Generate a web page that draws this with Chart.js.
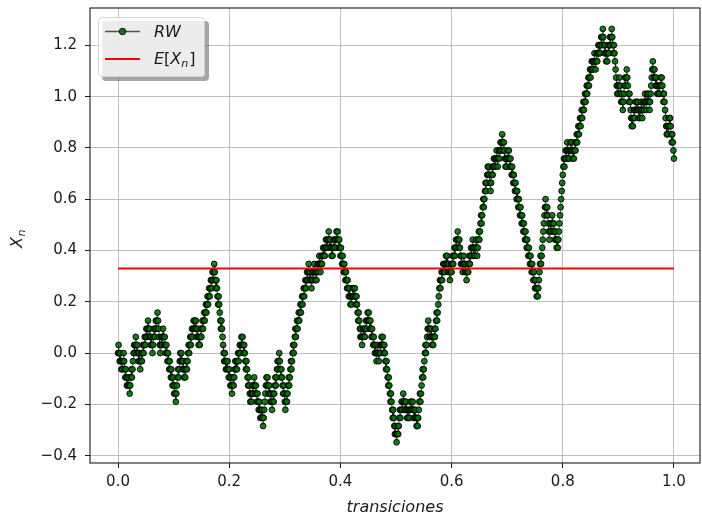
<!DOCTYPE html>
<html><head><meta charset="utf-8">
<script src="https://cdn.jsdelivr.net/npm/chart.js@4"></script>
<style>html,body{margin:0;padding:0;background:#fff}canvas{display:block}</style>
</head><body>
<canvas id="c" width="702" height="516"></canvas>
<script>
// step height of the walk (40 steps ~ 1.265)
const STEP = 0.0316;
// walk levels (in units of STEP), one per transition
const walkLevels = [
0,1,
0,-1,0,-1,-2,-1,-2,-1,0,-1,-2,-3,-2,-3,-4,-3,-4,-3,-4,-5,
-4,-3,-2,-3,-2,-1,0,1,0,1,2,
1,0,1,0,-1,0,-1,-2,
-1,0,-1,0,1,0,1,2,1,2,3,2,3,4,3,2,3,2,1,2,1,0,1,2,3,2,3,4,3,4,5,
4,3,2,1,0,
1,2,1,2,3,
2,1,2,1,0,1,0,-1,0,-1,-2,-1,-2,-3,-2,-3,-4,-3,-4,-5,-4,-5,-6,
-5,-4,-3,-2,-3,-2,-1,0,
-1,0,-1,-2,-1,-2,-3,-2,-3,
-2,-1,-2,-1,0,1,0,1,2,1,2,3,2,3,4,3,4,
3,4,3,2,3,2,1,2,1,
2,3,2,3,4,3,4,5,4,5,6,5,6,7,6,7,8,7,8,9,8,9,10,9,10,11,
10,9,8,9,8,7,6,7,6,5,4,3,4,3,2,1,0,-1,0,-1,-2,-1,-2,-1,-2,-3,-2,-3,-4,-3,-4,-5,
-4,-3,-4,-3,-2,-1,-2,-1,-2,-1,0,-1,0,1,0,1,2,1,2,
1,0,1,0,-1,-2,-1,-2,-3,-4,-3,-4,-5,-6,
-5,-6,-5,-4,-5,-4,-3,
-4,-5,-4,-5,-6,-5,-6,-7,-6,-7,-8,-7,-8,-7,-8,-9,
-8,-7,-6,-5,-4,-3,
-4,-3,-4,-5,-4,-5,-6,-5,-6,-7,
-6,-5,-6,-5,-4,-3,-4,-3,-2,-1,-2,-1,0,
-1,-2,-3,-2,-3,-4,-5,-4,-5,-6,-7,
-6,-5,-6,-5,-4,-3,-4,-3,-2,-1,-2,-1,0,1,0,1,2,3,2,3,4,3,4,5,4,5,6,5,6,7,6,7,8,7,8,9,8,9,10,9,10,11,
10,9,10,9,8,
9,10,9,10,11,10,9,10,9,10,11,10,11,12,11,10,11,12,11,12,13,12,13,12,13,14,13,14,13,14,15,
14,13,14,13,12,13,12,
13,14,13,14,13,14,15,14,15,
14,13,14,13,12,13,12,11,12,11,10,11,10,9,10,9,8,9,8,7,8,7,6,
7,6,7,8,7,8,7,8,
7,6,7,6,5,4,5,4,3,2,3,2,1,
2,3,2,3,2,3,4,3,4,5,4,5,
4,3,4,3,2,3,2,1,2,1,0,1,0,-1,
0,1,0,-1,0,1,0,1,2,1,2,
1,0,1,0,-1,-2,-1,-2,-3,-4,-3,-4,-5,-6,-5,-6,-7,-8,-7,-8,-9,-10,-9,-10,-11,
-10,-9,-10,-9,-8,-7,-8,-7,-6,-7,-6,-5,
-6,-7,-6,-7,-6,-7,-8,-7,-8,
-7,-8,-7,-6,-7,-6,-7,-6,
-7,-8,-7,-8,-7,-8,-9,-8,-9,
-8,-7,-6,-5,-6,-5,-4,-3,-2,-3,-2,-1,0,1,0,1,2,3,4,
3,2,3,2,3,2,1,2,1,
2,3,2,3,4,5,4,5,6,
7,8,9,8,9,10,9,10,11,10,11,10,11,12,11,12,
11,10,11,10,9,
10,11,10,11,12,11,12,13,12,13,14,13,14,15,
14,13,14,13,12,11,12,11,10,
11,12,11,10,11,10,9,
10,11,10,11,12,11,12,13,12,13,
14,13,12,13,12,13,14,13,12,
13,14,15,14,15,16,17,16,17,18,19,18,19,20,21,20,21,22,23,
22,23,22,21,20,
21,22,23,22,23,24,23,24,23,24,25,24,23,24,25,24,25,26,25,26,27,
26,25,26,25,24,23,
24,23,24,25,
24,25,24,23,24,23,22,23,22,21,22,21,20,21,20,19,20,19,18,19,18,17,18,17,16,17,16,15,16,15,14,15,14,13,14,13,12,13,12,11,12,11,10,11,10,9,10,9,8,9,8,7,8,7,
8,9,10,11,12,11,12,13,14,15,16,17,18,19,
18,17,18,17,16,15,14,
15,16,15,16,17,
16,15,16,15,14,15,14,13,14,13,
14,15,16,17,18,19,20,21,22,
23,24,23,24,25,24,25,26,25,24,25,24,25,26,25,26,25,24,25,24,25,26,25,26,27,26,27,
28,27,28,29,28,29,30,29,30,31,30,31,32,31,32,33,32,33,34,33,34,35,34,35,36,35,36,35,36,37,36,35,36,37,36,37,38,37,38,37,38,39,38,39,40,
39,38,37,38,37,36,37,36,
37,38,37,38,39,38,39,40,
39,38,37,38,37,36,35,
34,33,32,33,32,33,34,33,
32,31,32,31,30,31,32,33,34,33,34,35,34,
33,32,31,32,31,30,29,28,
29,28,29,30,29,30,31,30,31,
30,31,30,29,30,29,
30,31,30,29,30,31,30,31,32,31,30,31,32,
31,32,31,30,
31,32,33,34,35,36,
35,34,35,34,33,34,33,32,33,32,
33,32,33,34,33,34,
33,32,31,32,31,30,29,28,27,
28,27,28,29,28,29,
28,27,26,27,26,25,24
];
// expected value line
const meanX = [0, 1];
const meanValue = [0.33, 0.33];
// tick values
const xTicks = [0, 0.2, 0.4, 0.6, 0.8, 1.0];
const yTicks = [-0.4, -0.2, 0, 0.2, 0.4, 0.6, 0.8, 1.0, 1.2];
const seriesLabels = ['RW', 'E[X_n]'];

const N = walkLevels.length - 1;
const rwData = walkLevels.map((k, i) => ({x: i / N, y: k * STEP}));
const meanData = meanX.map((x, i) => ({x: x, y: meanValue[i]}));

const fmt = v => (v < -1e-9 ? '\u2212' : '') + Math.abs(v).toFixed(1);
const GREEN = 'rgba(0,112,0,0.88)';
const EDGE = 'rgba(0,0,0,0.9)';
const MONO = 'DejaVu Sans';

const decor = {
  id: 'decor',
  afterDraw(chart) {
    const ctx = chart.ctx, a = chart.chartArea;
    ctx.save();
    // spines
    ctx.strokeStyle = '#1a1a1a';
    ctx.lineWidth = 1.1;
    ctx.strokeRect(a.left, a.top, a.right - a.left, a.bottom - a.top);
    // x label
    ctx.fillStyle = '#1a1a1a';
    ctx.font = 'italic 16px "DejaVu Sans"';
    ctx.textAlign = 'center';
    ctx.textBaseline = 'alphabetic';
    ctx.fillText('transiciones', (a.left + a.right) / 2, 512);
    // y label X_n
    ctx.save();
    ctx.translate(22, 248);
    ctx.rotate(-Math.PI / 2);
    ctx.textAlign = 'left';
    ctx.font = 'italic 16px "DejaVu Sans"';
    ctx.fillText('X', 0, 0);
    const wX = ctx.measureText('X').width;
    ctx.font = 'italic 11px "DejaVu Sans"';
    ctx.fillText('n', wX + 0.5, 3);
    ctx.restore();
    // legend
    const lx = 98, ly = 17, lw = 107, lh = 60;
    ctx.fillStyle = 'rgba(77,77,77,0.5)';
    ctx.beginPath(); ctx.roundRect(lx + 4, ly + 4, lw, lh, 4); ctx.fill();
    ctx.fillStyle = 'rgba(255,255,255,0.8)';
    ctx.beginPath(); ctx.roundRect(lx, ly, lw, lh, 4); ctx.fill();
    ctx.strokeStyle = 'rgba(204,204,204,0.8)';
    ctx.lineWidth = 1;
    ctx.beginPath(); ctx.roundRect(lx + 0.5, ly + 0.5, lw - 1, lh - 1, 4); ctx.stroke();
    // RW entry
    ctx.strokeStyle = 'rgba(40,40,40,0.8)';
    ctx.lineWidth = 1.3;
    ctx.beginPath(); ctx.moveTo(105, 31.5); ctx.lineTo(140, 31.5); ctx.stroke();
    ctx.beginPath(); ctx.arc(122.5, 31.5, 3.2, 0, Math.PI * 2);
    ctx.fillStyle = GREEN; ctx.fill();
    ctx.strokeStyle = EDGE; ctx.lineWidth = 1; ctx.stroke();
    ctx.fillStyle = '#1a1a1a';
    ctx.textAlign = 'left';
    ctx.font = 'italic 16px "DejaVu Sans"';
    ctx.fillText(seriesLabels[0], 154, 37);
    // E[X_n] entry
    ctx.strokeStyle = '#ff0000';
    ctx.lineWidth = 2;
    ctx.beginPath(); ctx.moveTo(105, 59); ctx.lineTo(140, 59); ctx.stroke();
    let tx = 154;
    const base = 64;
    const parts = [['E', 'italic 16px "DejaVu Sans"', 0], ['[', '16px "DejaVu Sans"', 0], ['X', 'italic 16px "DejaVu Sans"', 0], ['n', 'italic 11px "DejaVu Sans"', 3], [']', '16px "DejaVu Sans"', 0]];
    for (const [t, f, dy] of parts) {
      ctx.font = f;
      ctx.fillText(t, tx, base + dy);
      tx += ctx.measureText(t).width + (t === 'n' ? 1 : 0);
    }
    ctx.restore();
  }
};

const zeroPad = s => { s.paddingTop = 0; s.paddingBottom = 0; s.paddingLeft = 0; s.paddingRight = 0; };

new Chart(document.getElementById('c'), {
  type: 'scatter',
  data: {
    datasets: [
      {label: seriesLabels[0], data: rwData, showLine: true, borderColor: 'rgba(40,40,40,0.7)', borderWidth: 1,
       pointRadius: 2.9, pointBorderWidth: 1, pointBackgroundColor: GREEN, pointBorderColor: EDGE, order: 1},
      {label: seriesLabels[1], data: meanData, showLine: true, borderColor: '#ff0000', borderWidth: 2,
       pointRadius: 0, order: 0}
    ]
  },
  options: {
    responsive: false,
    animation: false,
    devicePixelRatio: 1,
    layout: {autoPadding: false, padding: {top: 8, right: 2, left: 0, bottom: 0}},
    plugins: {legend: {display: false}, tooltip: {enabled: false}},
    scales: {
      x: {
        type: 'linear', min: -0.0504, max: 1.0468,
        afterBuildTicks: s => { s.ticks = xTicks.map(v => ({value: v})); },
        afterFit: s => { s.height = 53; zeroPad(s); },
        grid: {color: 'rgba(176,176,176,0.8)', lineWidth: 1, tickLength: 5, tickColor: '#1a1a1a'},
        border: {display: false},
        ticks: {autoSkip: false, maxRotation: 0, padding: 5, color: '#1a1a1a',
                font: {family: MONO, size: 15}, callback: v => fmt(v)}
      },
      y: {
        type: 'linear', min: -0.4286, max: 1.3456,
        afterBuildTicks: s => { s.ticks = yTicks.map(v => ({value: v})); },
        afterFit: s => { s.width = 90; zeroPad(s); },
        grid: {color: 'rgba(176,176,176,0.8)', lineWidth: 1, tickLength: 5, tickColor: '#1a1a1a'},
        border: {display: false},
        ticks: {autoSkip: false, padding: 8, color: '#1a1a1a',
                font: {family: MONO, size: 15}, callback: v => fmt(v)}
      }
    }
  },
  plugins: [decor]
});
</script>
</body></html>
